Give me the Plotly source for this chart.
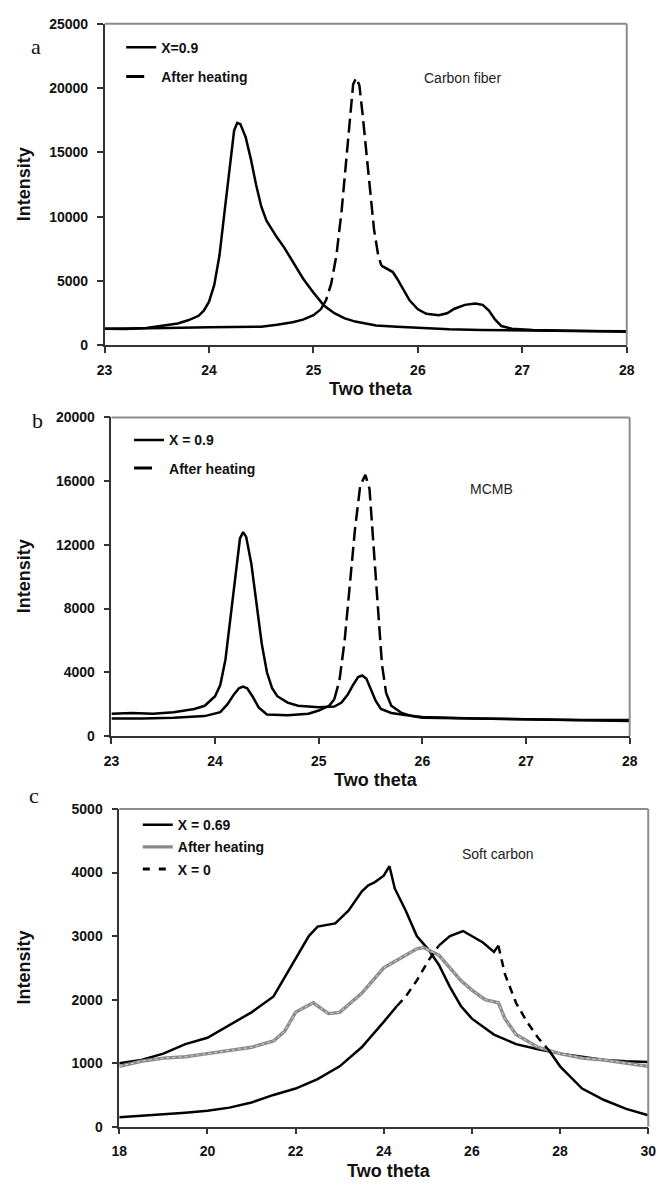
import plotly.graph_objects as go

# ---------------- data ----------------
# Panel a: Carbon fiber
a_x09 = [23.0, 23.2, 23.4, 23.5, 23.6, 23.7, 23.8, 23.9, 23.95, 24.0, 24.05, 24.1, 24.15, 24.2, 24.24, 24.27,
         24.3, 24.35, 24.4, 24.45, 24.5, 24.55, 24.6, 24.65, 24.72, 24.8, 24.9, 25.0, 25.1, 25.2, 25.3, 25.4,
         25.5, 25.6, 25.8, 26.0, 26.3, 26.6, 27.0, 27.5, 28.0]
a_y09 = [1300, 1280, 1350, 1450, 1600, 1700, 1950, 2300, 2700, 3400, 4700, 7000, 10500, 14200, 16700, 17300,
         17200, 16200, 14500, 12500, 10800, 9700, 9000, 8400, 7600, 6500, 5200, 4100, 3100, 2500, 2100, 1850,
         1700, 1550, 1450, 1350, 1250, 1200, 1150, 1120, 1100]
a_xh = [23.0, 23.3, 23.6, 24.0, 24.3, 24.5, 24.65, 24.8, 24.9, 25.0, 25.07, 25.12, 25.17, 25.22, 25.27, 25.31,
        25.35, 25.38, 25.41, 25.44, 25.47, 25.5, 25.54, 25.58, 25.62, 25.65, 25.7, 25.76, 25.8, 25.86, 25.92,
        26.0, 26.08, 26.2, 26.28, 26.35, 26.45, 26.55, 26.62, 26.68, 26.74, 26.8, 26.9, 27.1, 27.5, 28.0]
a_yh = [1300, 1350, 1350, 1400, 1400, 1450, 1600, 1800, 2000, 2350, 2800, 3500, 4800, 7000, 10500, 14000,
        17800, 20300, 20800, 20200, 18000, 15500, 12000, 9000, 7000, 6200, 6000, 5700, 5200, 4300, 3500,
        2800, 2450, 2350, 2500, 2850, 3150, 3250, 3150, 2700, 2000, 1500, 1300, 1200, 1150, 1050]

# Panel b: MCMB
b_x09 = [23.0, 23.2, 23.4, 23.6, 23.8, 23.9, 24.0, 24.05, 24.1, 24.15, 24.2, 24.24, 24.27, 24.3, 24.35, 24.4,
         24.45, 24.5, 24.55, 24.6, 24.7, 24.8, 25.0, 25.15, 25.22, 25.28, 25.33, 25.38, 25.42, 25.46, 25.5,
         25.55, 25.6, 25.7, 25.85, 26.0, 26.5, 27.0, 27.5, 28.0]
b_y09 = [1400, 1450, 1400, 1500, 1700, 1900, 2500, 3200, 4800, 7500, 10500, 12400, 12800, 12500, 10800, 8200,
         5800, 4000, 3000, 2500, 2100, 1900, 1800, 1850, 2100, 2600, 3200, 3700, 3800, 3600, 3000,
         2200, 1700, 1450, 1300, 1200, 1100, 1050, 1000, 1000]
b_xh = [23.0, 23.3, 23.6, 23.9, 24.05, 24.12, 24.18, 24.23, 24.27, 24.31, 24.36, 24.42, 24.5, 24.7, 24.9, 25.0,
        25.1, 25.15, 25.2, 25.25, 25.3, 25.35, 25.4, 25.45, 25.49, 25.53, 25.57, 25.61, 25.65, 25.7, 25.8,
        25.9, 26.0, 26.5, 27.0, 27.5, 28.0]
b_yh = [1100, 1100, 1150, 1250, 1500, 2000, 2600, 3000, 3100, 3000, 2500, 1800, 1350, 1300, 1400, 1600,
        1900, 2300, 3500, 6000, 9500, 13000, 15700, 16400, 15500, 12000, 8000, 4500, 2700, 1900, 1450,
        1250, 1150, 1100, 1050, 1000, 950]

# Panel c: Soft carbon
c_x069 = [18.0, 18.5, 19.0, 19.5, 20.0, 20.5, 20.9, 21.0, 21.5, 21.75, 22.0, 22.3, 22.5, 22.9, 23.2, 23.5,
          23.65, 23.8, 24.0, 24.13, 24.25, 24.5, 24.75, 25.0, 25.25, 25.5, 25.75, 26.0, 26.5, 27.0, 27.5,
          28.0, 28.5, 29.0, 29.5, 30.0]
c_y069 = [1000, 1050, 1150, 1300, 1400, 1600, 1750, 1800, 2050, 2350, 2650, 3000, 3150, 3200, 3400, 3700,
          3800, 3850, 3950, 4100, 3750, 3400, 3000, 2800, 2550, 2200, 1900, 1700, 1450, 1300, 1220,
          1150, 1100, 1050, 1030, 1020]
c_xh = [18.0, 18.5, 19.0, 19.5, 20.0, 20.5, 21.0, 21.5, 21.75, 22.0, 22.25, 22.4, 22.6, 22.75, 23.0, 23.25,
        23.5, 23.75, 24.0, 24.25, 24.5, 24.75, 24.9, 25.25, 25.5, 25.75, 26.0, 26.3, 26.6, 26.75, 27.0,
        27.5, 28.0, 28.5, 29.0, 29.5, 30.0]
c_yh = [950, 1030, 1080, 1100, 1150, 1200, 1250, 1350, 1500, 1800, 1900, 1950, 1850, 1780, 1800, 1950,
        2100, 2300, 2500, 2600, 2700, 2800, 2820, 2700, 2500, 2300, 2150, 2000, 1950, 1700, 1450,
        1250, 1150, 1080, 1050, 1000, 950]
c_x0 = [18.0, 18.5, 19.0, 19.5, 20.0, 20.5, 21.0, 21.5, 22.0, 22.5, 23.0, 23.5, 24.0, 24.3, 24.5, 24.75,
        25.0, 25.25, 25.5, 25.8, 26.0, 26.25, 26.5, 26.6, 26.75, 27.0, 27.25, 27.5, 27.75, 28.0, 28.5,
        29.0, 29.5, 30.0]
c_y0 = [150, 170, 200, 220, 250, 300, 380, 500, 600, 750, 950, 1250, 1650, 1900, 2050, 2300,
        2600, 2850, 3000, 3080, 3000, 2900, 2750, 2850, 2400, 1950, 1650, 1400, 1200, 950, 600,
        420, 280, 180]

W, H = 665, 1185
BOLD = "Liberation Sans, Arial, sans-serif"
REG = "Liberation Sans, Arial, sans-serif"


def fx(px):
    return px / W


def fy(py):
    return 1 - py / H


def split(xs, ys, ranges):
    """Return (solid_y, dashed_y) from the data, dashed inside any of the given x ranges."""
    solid, dashed = [], []
    for xv, yv in zip(xs, ys):
        inside = any(lo <= xv <= hi for lo, hi in ranges)
        edge = any(xv in (lo, hi) for lo, hi in ranges)
        dashed.append(yv if inside else None)
        solid.append(yv if (not inside or edge) else None)
    return solid, dashed


fig = go.Figure()

LW = 2.5
DASH = "14px,6px"
LEG_DASH = "18px,14px"


def add_curve(x, y, name, xa, ya, leg, grp, dash_ranges=None, dash=DASH, leg_dash=LEG_DASH):
    if dash_ranges is None:
        fig.add_trace(go.Scatter(x=x, y=y, mode="lines", name=name, line=dict(color="black", width=LW),
                                 xaxis=xa, yaxis=ya, legend=leg, legendgroup=grp))
        return
    s, d = split(x, y, dash_ranges)
    fig.add_trace(go.Scatter(x=x, y=s, mode="lines", showlegend=False, line=dict(color="black", width=LW),
                             xaxis=xa, yaxis=ya, legendgroup=grp, hoverinfo="skip"))
    fig.add_trace(go.Scatter(x=x, y=d, mode="lines", showlegend=False,
                             line=dict(color="black", width=LW, dash=dash), xaxis=xa, yaxis=ya, legendgroup=grp))
    # legend entry only (draws no mark)
    fig.add_trace(go.Scatter(x=[None], y=[None], mode="lines", name=name,
                             line=dict(color="black", width=3, dash=leg_dash), xaxis=xa, yaxis=ya,
                             legend=leg, legendgroup=grp))


# ---- panel a ----
add_curve(a_x09, a_y09, "X=0.9", "x", "y", "legend", "a1")
add_curve(a_xh, a_yh, "After heating", "x", "y", "legend", "a2", dash_ranges=[(25.07, 25.65)])

# ---- panel b ----
add_curve(b_x09, b_y09, "X = 0.9", "x2", "y2", "legend2", "b1")
add_curve(b_xh, b_yh, "After heating", "x2", "y2", "legend2", "b2", dash_ranges=[(25.15, 25.65)])

# ---- panel c ----
add_curve(c_x069, c_y069, "X = 0.69", "x3", "y3", "legend3", "c1")
fig.add_trace(go.Scatter(x=c_xh, y=c_yh, mode="lines", name="After heating", line=dict(color="#8a8a8a", width=3.4),
                         xaxis="x3", yaxis="y3", legend="legend3", legendgroup="c2"))
fig.add_trace(go.Scatter(x=c_xh, y=c_yh, mode="lines", showlegend=False,
                         line=dict(color="#d8d8d8", width=1, dash="dot"), xaxis="x3", yaxis="y3"))
add_curve(c_x0, c_y0, "X = 0", "x3", "y3", "legend3", "c3", dash_ranges=[(24.3, 25.25), (26.6, 27.75)],
          dash="8px,6px", leg_dash="7px,9px")

panels = [
    # xaxis, yaxis, x px range, y px range (top, bottom), xrange, dtick, yrange, ydtick
    ("xaxis", "yaxis", (99, 634), (16, 342), [23, 28], 1, [0, 25000], 5000),
    ("xaxis2", "yaxis2", (106, 637), (415, 738), [23, 28], 1, [0, 20000], 4000),
    ("xaxis3", "yaxis3", (114, 656), (812, 1134), [18, 30], 2, [0, 5000], 1000),
]

tickfont = dict(family=BOLD, size=14, color="#111", weight="bold")
layout = dict(width=W, height=H, margin=dict(l=0, r=0, t=0, b=0), paper_bgcolor="white",
              plot_bgcolor="white", showlegend=True)
shapes = []
annotations = []
for i, (xa, ya, (x0, x1), (y0, y1), xr, xd, yr, yd) in enumerate(panels):
    suffix = "" if i == 0 else str(i + 1)
    layout[xa] = dict(domain=[fx(x0), fx(x1)], range=xr, dtick=xd, tick0=xr[0], showgrid=False, zeroline=False,
                      showline=True, linecolor="#333", linewidth=1.5, ticks="outside", ticklen=6,
                      tickcolor="#333", tickwidth=1.5, tickfont=tickfont, anchor="y" + suffix, fixedrange=True,
                      tickformat="d", ticklabelstandoff=5)
    layout[ya] = dict(domain=[fy(y1), fy(y0)], range=yr, dtick=yd, tick0=0, showgrid=False, zeroline=False,
                      showline=True, linecolor="#333", linewidth=1.5, ticks="outside", ticklen=6,
                      tickcolor="#333", tickwidth=1.5, tickfont=tickfont, anchor="x" + suffix, fixedrange=True,
                      tickformat="d", ticklabelstandoff=6)
    # grey top and right border of the plot box
    shapes.append(dict(type="line", xref="x" + suffix + " domain", yref="y" + suffix + " domain",
                       x0=0, x1=1, y0=1, y1=1, line=dict(color="#8c8c8c", width=2)))
    shapes.append(dict(type="line", xref="x" + suffix + " domain", yref="y" + suffix + " domain",
                       x0=1, x1=1, y0=0, y1=1, line=dict(color="#8c8c8c", width=2)))
    # axis titles
    annotations.append(dict(text="Two theta", xref="x" + suffix + " domain", yref="y" + suffix + " domain",
                            x=0.51, y=0, yshift=-44, showarrow=False, yanchor="middle",
                            font=dict(family=BOLD, size=18, color="#111", weight="bold")))
    annotations.append(dict(text="Intensity", xref="paper", yref="y" + suffix + " domain",
                            x=fx(16), y=0.5, textangle=-90, showarrow=False, xanchor="center",
                            font=dict(family=BOLD, size=18, color="#111", weight="bold")))

# panel letters
for letter, px, py in (("a", 22, 24), ("b", 23, 418), ("c", 19, 813)):
    annotations.append(dict(text=letter, xref="paper", yref="paper", x=fx(px), y=fy(py), showarrow=False,
                            font=dict(family="Liberation Serif, Times New Roman, serif", size=22, color="#111")))

# sample names
annotations.append(dict(text="Carbon fiber", xref="x", yref="y", x=26.43, y=20800, showarrow=False,
                        font=dict(family=REG, size=14, color="#222")))
annotations.append(dict(text="MCMB", xref="x2", yref="y2", x=26.67, y=15500, showarrow=False,
                        font=dict(family=REG, size=14, color="#222")))
annotations.append(dict(text="Soft carbon", xref="x3", yref="y3", x=26.6, y=4300, showarrow=False,
                        font=dict(family=REG, size=14, color="#222")))

legfont = dict(family=BOLD, size=14, color="#111", weight="bold")
layout["legend"] = dict(x=fx(116), y=fy(24), xanchor="left", yanchor="top", bgcolor="rgba(0,0,0,0)",
                        font=legfont, tracegroupgap=8, itemwidth=30)
layout["legend2"] = dict(x=fx(124), y=fy(422), xanchor="left", yanchor="top", bgcolor="rgba(0,0,0,0)",
                         font=legfont, tracegroupgap=7, itemwidth=30)
layout["legend3"] = dict(x=fx(133), y=fy(812), xanchor="left", yanchor="top", bgcolor="rgba(0,0,0,0)",
                         font=legfont, tracegroupgap=1, itemwidth=30)
layout["shapes"] = shapes
layout["annotations"] = annotations

fig.update_layout(**layout)
fig.write_html("out.html")
